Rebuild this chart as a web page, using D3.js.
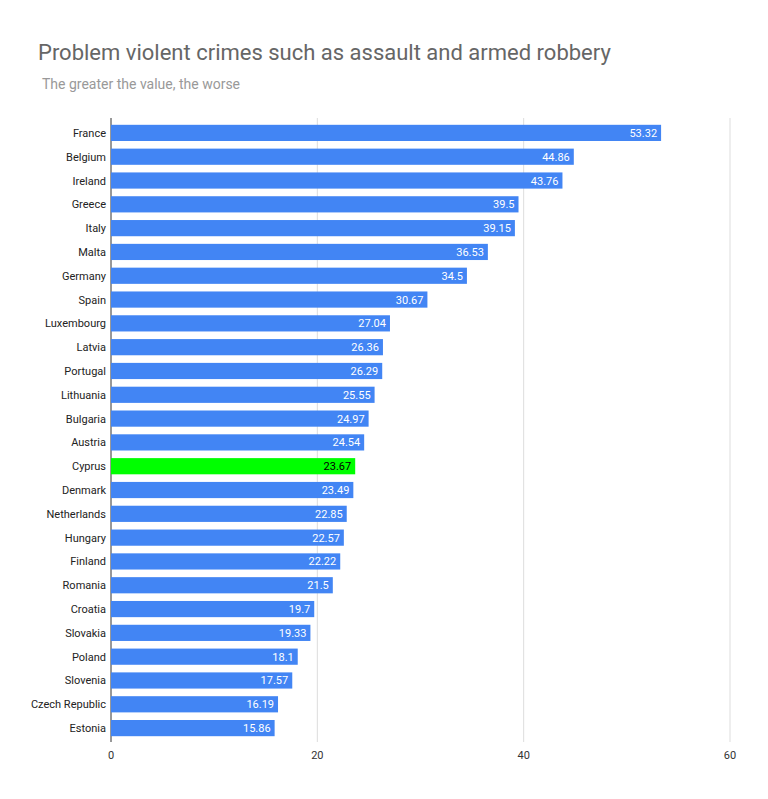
<!DOCTYPE html>
<html><head><meta charset="utf-8">
<script src="https://cdn.jsdelivr.net/npm/d3@7"></script>
<style>body{margin:0;background:#fff;font-family:Roboto,Arial,sans-serif}</style>
</head><body>
<svg id="c" width="768" height="799"></svg>
<script>
const countries=["France","Belgium","Ireland","Greece","Italy","Malta","Germany","Spain","Luxembourg","Latvia","Portugal","Lithuania","Bulgaria","Austria","Cyprus","Denmark","Netherlands","Hungary","Finland","Romania","Croatia","Slovakia","Poland","Slovenia","Czech Republic","Estonia"];
const values=[53.32,44.86,43.76,39.5,39.15,36.53,34.5,30.67,27.04,26.36,26.29,25.55,24.97,24.54,23.67,23.49,22.85,22.57,22.22,21.5,19.7,19.33,18.1,17.57,16.19,15.86];
const ticks=[0,20,40,60];
const highlight="Cyprus";
const svg=d3.select("#c");
svg.append("rect").attr("width",768).attr("height",799).attr("fill","#fff");
const x=d3.scaleLinear().domain([0,60]).range([111,730]);
const y=d3.scaleBand().domain(countries).range([121,740]).paddingInner(0.32).paddingOuter(0.16);
svg.append("text").attr("x",38).attr("y",60).attr("font-size",22).attr("fill","#666").text("Problem violent crimes such as assault and armed robbery");
svg.append("text").attr("x",42).attr("y",89).attr("font-size",14).attr("fill","#999").text("The greater the value, the worse");
svg.selectAll("line.g").data(ticks).join("line").attr("x1",d=>x(d)).attr("x2",d=>x(d)).attr("y1",118).attr("y2",742).attr("stroke",d=>d===0?"#333":"#ddd").attr("stroke-width",1);
svg.selectAll("text.t").data(ticks).join("text").attr("x",d=>x(d)).attr("y",759).attr("text-anchor","middle").attr("font-size",11).attr("fill","#333").text(d=>d);
const data=countries.map((c,i)=>({c,v:values[i]}));
svg.selectAll("rect.b").data(data).join("rect").attr("x",x(0)).attr("y",d=>y(d.c)).attr("width",d=>x(d.v)-x(0)).attr("height",y.bandwidth()).attr("fill",d=>d.c===highlight?"#00ff00":"#4285f4");
svg.selectAll("text.l").data(data).join("text").attr("x",d=>x(d.v)-4).attr("y",d=>y(d.c)+y.bandwidth()/2+4).attr("text-anchor","end").attr("font-size",11).attr("fill",d=>d.c===highlight?"#000":"#fff").text(d=>d.v);
svg.selectAll("text.c").data(data).join("text").attr("x",106).attr("y",d=>y(d.c)+y.bandwidth()/2+4).attr("text-anchor","end").attr("font-size",11).attr("fill","#222").text(d=>d.c);
</script></body></html>
